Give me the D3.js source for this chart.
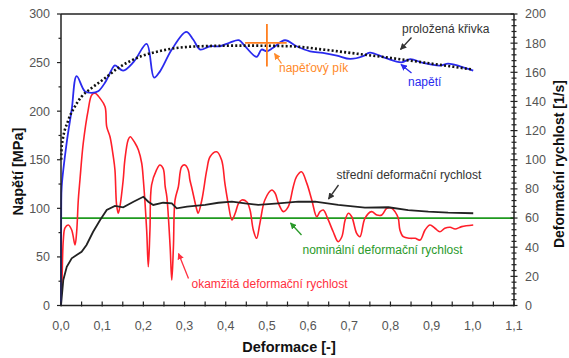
<!DOCTYPE html>
<html><head><meta charset="utf-8">
<script src="https://cdn.jsdelivr.net/npm/d3@7"></script>
<style>body{margin:0;background:#fff}svg{display:block}text{font-family:Arial,"Liberation Sans",sans-serif}</style>
</head><body>
<script>
// ---- data ----
const xTicks = [0,0.1,0.2,0.3,0.4,0.5,0.6,0.7,0.8,0.9,1.0,1.1];
const xTickLabels = ["0,0","0,1","0,2","0,3","0,4","0,5","0,6","0,7","0,8","0,9","1,0","1,1"];
const leftTicks = [0,50,100,150,200,250,300];
const rightTicks = [0,20,40,60,80,100,120,140,160,180,200];

// napětí [MPa] (strain, stress)
const stressCurve = [[0,0],[0.0005,100],[0.0017,122.5],[0.0138,167.5],[0.026,201.5],[0.038,236],[0.058,220.4],[0.0746,218.8],[0.09,220.4],[0.107,229.4],[0.126,245],[0.131,247.2],[0.151,241.8],[0.177,251],[0.208,269.3],[0.226,234.5],[0.24,240.7],[0.269,263.4],[0.304,281.6],[0.321,273.7],[0.338,263.4],[0.362,266.8],[0.386,266.8],[0.41,270.6],[0.432,273],[0.447,266.8],[0.475,255.9],[0.487,263.4],[0.5,261.6],[0.515,265.2],[0.544,273],[0.572,266.8],[0.605,261.6],[0.636,260],[0.67,257.2],[0.702,253.8],[0.733,256.5],[0.75,260.3],[0.787,254.8],[0.827,250.3],[0.848,253.6],[0.879,249.7],[0.92,246.9],[0.94,249],[0.969,246.2],[1.001,241.8]];
// proložená křivka
const fittedCurve = [[0.0005,150],[0.0017,163.7],[0.018,191],[0.034,205],[0.05,215],[0.075,224],[0.107,234],[0.139,244.5],[0.175,253],[0.257,263.4],[0.338,266.8],[0.435,267.5],[0.556,266.8],[0.636,263.4],[0.702,260],[0.8,254.8],[0.915,248],[1.0,242.8]];
// okamžitá deformační rychlost [1/s]
const instantRate = [[0.001,10.6],[0.0024,17.5],[0.0056,44.9],[0.0097,53.2],[0.0177,55.2],[0.026,51.8],[0.034,41.5],[0.038,50.4],[0.042,72.4],[0.046,86.1],[0.054,111.3],[0.066,134.1],[0.0746,144.4],[0.0826,145.6],[0.0947,142.2],[0.107,136.4],[0.111,122.7],[0.119,115.8],[0.127,102.1],[0.131,93],[0.135,69],[0.139,63.3],[0.143,67.8],[0.151,86.1],[0.155,99.8],[0.163,113.6],[0.168,115.8],[0.18,111.3],[0.188,106.7],[0.196,97.6],[0.2,86.1],[0.208,51.8],[0.212,26.6],[0.216,51.8],[0.22,82.7],[0.232,93],[0.24,96.4],[0.248,94.1],[0.253,81.5],[0.257,74.6],[0.265,40.3],[0.269,17.5],[0.273,40.3],[0.277,72.4],[0.285,81.5],[0.293,95.2],[0.301,96.4],[0.309,93],[0.313,86.1],[0.317,81.5],[0.33,65.5],[0.333,63.3],[0.342,72.4],[0.354,93],[0.362,102.1],[0.378,105.5],[0.39,99.8],[0.398,83.8],[0.406,70.1],[0.415,58.7],[0.423,63.3],[0.431,70.1],[0.439,72.4],[0.451,71.2],[0.459,65.5],[0.467,51.8],[0.475,46.1],[0.483,56.4],[0.495,72.4],[0.512,79.2],[0.52,77],[0.528,70.1],[0.54,64.4],[0.552,67.8],[0.564,81.5],[0.572,88.4],[0.584,91.8],[0.597,83.8],[0.609,72.4],[0.621,60.9],[0.629,64.4],[0.637,65.5],[0.649,58.7],[0.661,50.6],[0.673,43.8],[0.682,47.2],[0.69,58.7],[0.698,63.3],[0.706,60.9],[0.718,49.5],[0.726,47.2],[0.738,59.8],[0.754,64.4],[0.767,62.1],[0.779,62.1],[0.791,66.7],[0.803,66.7],[0.811,64.4],[0.819,59.8],[0.823,51.8],[0.831,47.2],[0.848,46.1],[0.86,46.1],[0.872,44.9],[0.884,51.8],[0.896,55.2],[0.908,53],[0.92,50.6],[0.932,53],[0.945,53.7],[0.957,52.5],[0.973,54.1],[1.001,55.2]];
// střední deformační rychlost
const meanRate = [[0,0],[0.0056,17.5],[0.014,26.6],[0.026,32.4],[0.038,34.6],[0.05,36.9],[0.062,41.5],[0.078,50.6],[0.095,58.7],[0.111,65.5],[0.131,68.3],[0.151,67.4],[0.176,71.2],[0.2,74.6],[0.212,71.2],[0.224,69],[0.248,70.5],[0.269,70.1],[0.281,66.7],[0.306,67.9],[0.35,69],[0.382,70.5],[0.415,71.2],[0.447,70.1],[0.479,69],[0.528,70.1],[0.576,71.2],[0.617,71.2],[0.673,69],[0.738,67.1],[0.795,67.4],[0.843,65.5],[0.892,64.4],[0.94,63.7],[1.001,63.3]];
// nominální deformační rychlost
const nominalRate = 60;
// napěťový pík
const peakStrain = 0.5, peakStress = 270.3, peakStrainRange = [0.447, 0.548], peakStressRange = [246, 289.7];

const W = 569, H = 358;
const svg = d3.select("body").append("svg").attr("width", W).attr("height", H);
const x = d3.scaleLinear().domain([0, 1.1]).range([61, 514]);
const yL = d3.scaleLinear().domain([0, 300]).range([305.5, 14]);
const yR = d3.scaleLinear().domain([0, 200]).range([305.5, 14]);

// markers
const defs = svg.append("defs");
function marker(id, color) {
  defs.append("marker").attr("id", id).attr("viewBox", "0 0 10 10").attr("refX", 9).attr("refY", 5)
    .attr("markerWidth", 5).attr("markerHeight", 5).attr("orient", "auto")
    .append("path").attr("d", "M0,0L10,5L0,10z").attr("fill", color);
}
marker("aK", "#333"); marker("aB", "#2a2aee"); marker("aO", "#ff8a2a"); marker("aG", "#2a9a2a"); marker("aR", "#ff3040");

// frame
svg.append("line").attr("x1", 61).attr("x2", 514).attr("y1", 14).attr("y2", 14).attr("stroke", "#222").attr("stroke-width", 1.5);

// curves
const lineL = d3.line().x(d => x(d[0])).y(d => yL(d[1]));
const lineR = d3.line().x(d => x(d[0])).y(d => yR(d[1]));

svg.append("line").attr("x1", 61).attr("x2", 514).attr("y1", yR(nominalRate)).attr("y2", yR(nominalRate))
  .attr("stroke", "#1f9a1f").attr("stroke-width", 1.8);

svg.append("path").datum(instantRate).attr("d", lineR.curve(d3.curveCatmullRom.alpha(0.5)))
  .attr("fill", "none").attr("stroke", "#ff1f2a").attr("stroke-width", 1.6);
svg.append("path").datum(meanRate).attr("d", lineR.curve(d3.curveLinear))
  .attr("fill", "none").attr("stroke", "#222").attr("stroke-width", 1.8);
svg.append("path").datum(stressCurve).attr("d", lineL.curve(d3.curveCatmullRom.alpha(0.5)))
  .attr("fill", "none").attr("stroke", "#2a2aee").attr("stroke-width", 1.8);
svg.append("path").datum(fittedCurve).attr("d", lineL.curve(d3.curveMonotoneX))
  .attr("fill", "none").attr("stroke", "#111").attr("stroke-width", 2.6).attr("stroke-dasharray", "2,2.2");

// peak cross
svg.append("line").attr("x1", x(peakStrain)).attr("x2", x(peakStrain)).attr("y1", yL(peakStressRange[1])).attr("y2", yL(peakStressRange[0]))
  .attr("stroke", "#ff7f1f").attr("stroke-width", 1.8);
svg.append("line").attr("x1", x(peakStrainRange[0])).attr("x2", x(peakStrainRange[1])).attr("y1", yL(peakStress)).attr("y2", yL(peakStress))
  .attr("stroke", "#ff7f1f").attr("stroke-width", 1.8);

// axes
const axis = svg.append("g").attr("stroke", "#222").attr("fill", "none");
axis.append("line").attr("x1", 61).attr("x2", 61).attr("y1", 14).attr("y2", 305.5).attr("stroke-width", 1.5);
axis.append("line").attr("x1", 514).attr("x2", 514).attr("y1", 14).attr("y2", 305.5).attr("stroke-width", 1.5);
axis.append("line").attr("x1", 61).attr("x2", 514).attr("y1", 305.5).attr("y2", 305.5).attr("stroke-width", 1.5);
d3.range(0, 301, 25).forEach(v => {
  const maj = v % 50 === 0;
  axis.append("line").attr("x1", maj ? 57 : 58.5).attr("x2", 61).attr("y1", yL(v)).attr("y2", yL(v)).attr("stroke-width", 1.2);
});
d3.range(0, 1.101, 0.05).forEach(v => {
  axis.append("line").attr("x1", x(v)).attr("x2", x(v)).attr("y1", 301.5).attr("y2", 306.5).attr("stroke-width", 1.2);
});
d3.range(0, 201, 4).forEach(v => {
  const maj = v % 20 === 0;
  axis.append("line").attr("x1", maj ? 510.5 : 511.5).attr("x2", maj ? 517.5 : 516.5).attr("y1", yR(v)).attr("y2", yR(v)).attr("stroke-width", 1.2);
});

const tl = svg.append("g").attr("fill", "#555").style("font-size", "12.5px");
leftTicks.forEach(v => tl.append("text").attr("x", 50).attr("y", yL(v)).attr("dy", "0.35em").attr("text-anchor", "end").text(v));
rightTicks.forEach(v => tl.append("text").attr("x", 525).attr("y", yR(v)).attr("dy", "0.35em").text(v));
xTicks.forEach((v, i) => tl.append("text").attr("x", x(v)).attr("y", 329.5).attr("text-anchor", "middle").text(xTickLabels[i]));

// axis titles
svg.append("text").attr("transform", "translate(17.5,171.5) rotate(-90)").attr("text-anchor", "middle").attr("dy", "0.35em")
  .style("font-size", "14.5px").style("font-weight", "bold").attr("fill", "#111").text("Napětí [MPa]");
svg.append("text").attr("transform", "translate(559,164) rotate(-90)").attr("text-anchor", "middle").attr("dy", "0.35em")
  .style("font-size", "14px").style("font-weight", "bold").attr("fill", "#111").text("Deformační rychlost [1/s]");
svg.append("text").attr("x", 289).attr("y", 352).attr("text-anchor", "middle")
  .style("font-size", "14.5px").style("font-weight", "bold").attr("fill", "#111").text("Deformace [-]");

// annotations
function note(txt, tx, ty, color, ax1, ay1, ax2, ay2, mk) {
  svg.append("text").attr("x", tx).attr("y", ty).attr("fill", color).style("font-size", "12px").text(txt);
  svg.append("line").attr("x1", ax1).attr("y1", ay1).attr("x2", ax2).attr("y2", ay2)
    .attr("stroke", color).attr("stroke-width", 1.3).attr("marker-end", `url(#${mk})`);
}
note("proložená křivka", 402, 33, "#333", 411.5, 37.5, 400.5, 49.5, "aK");
note("napětí", 408, 86, "#2a2aee", 411.5, 73, 401, 64.5, "aB");
note("napěťový pík", 279, 72, "#ff8a2a", 281.5, 63.5, 274.5, 53.5, "aO");
note("střední deformační rychlost", 336.5, 179, "#333", 338.5, 185, 328.5, 199, "aK");
note("nominální deformační rychlost", 302.5, 254, "#2a9a2a", 301.5, 235, 290.5, 223, "aG");
note("okamžitá deformační rychlost", 191.5, 287.5, "#ff3040", 188.5, 278.5, 178.5, 253.5, "aR");
</script>
</body></html>
